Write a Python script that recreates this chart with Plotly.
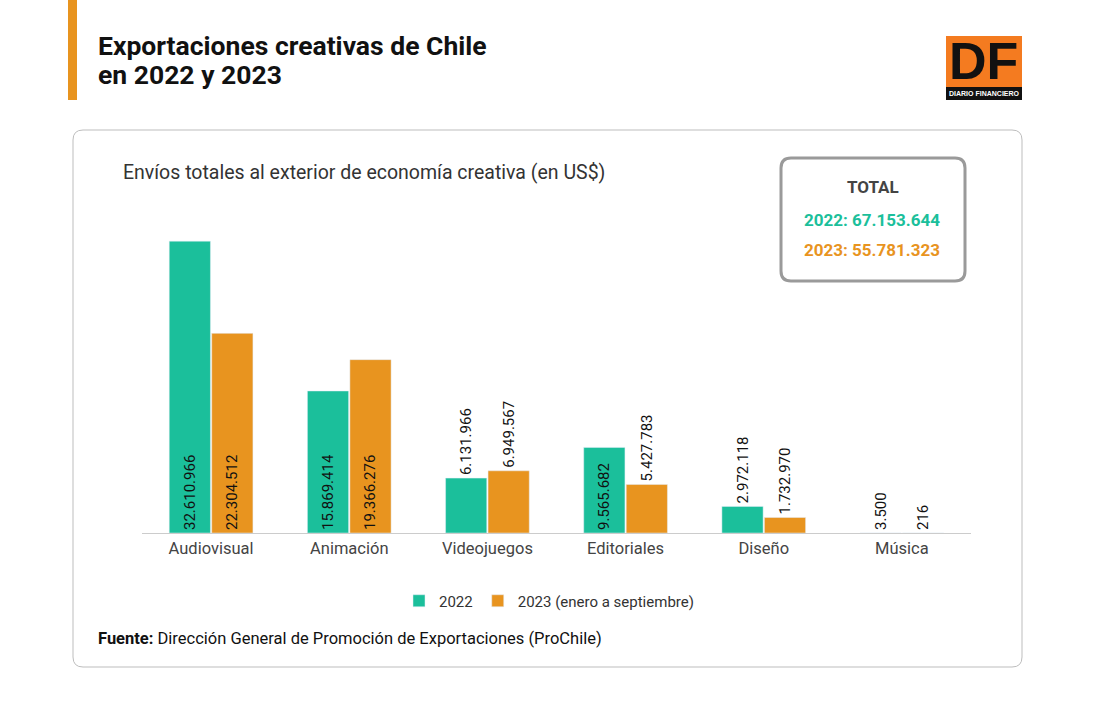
import plotly.graph_objects as go

categories = ["Audiovisual", "Animación", "Videojuegos", "Editoriales", "Diseño", "Música"]
values_2022 = [32610966, 15869414, 6131966, 9565682, 2972118, 3500]
values_2023 = [22304512, 19366276, 6949567, 5427783, 1732970, 216]
labels_2022 = ["32.610.966", "15.869.414", "6.131.966", "9.565.682", "2.972.118", "3.500"]
labels_2023 = ["22.304.512", "19.366.276", "6.949.567", "5.427.783", "1.732.970", "216"]
pos_2022 = ["inside", "inside", "outside", "inside", "outside", "outside"]
pos_2023 = ["inside", "inside", "outside", "outside", "outside", "outside"]
series_names = ["2022", "2023 (enero a septiembre)"]
total_2022 = "67.153.644"
total_2023 = "55.781.323"

GREEN = "#1BBF9B"
ORANGE = "#E8941F"
W, H = 1095, 720
FONT = "Roboto"


def px(x):
    return x / W


def py(y):
    return 1 - y / H


def rrect(x0, y0, x1, y1, r):
    rx, ry = r / W, r / H
    X0, X1 = px(x0), px(x1)
    Y0, Y1 = py(y0), py(y1)
    return (f"M {X0+rx},{Y0} L {X1-rx},{Y0} Q {X1},{Y0} {X1},{Y0-ry} "
            f"L {X1},{Y1+ry} Q {X1},{Y1} {X1-rx},{Y1} L {X0+rx},{Y1} "
            f"Q {X0},{Y1} {X0},{Y1+ry} L {X0},{Y0-ry} Q {X0},{Y0} {X0+rx},{Y0} Z")


tf = dict(family=FONT, size=15, color="#111")
fig = go.Figure()
fig.add_trace(go.Bar(
    x=categories, y=values_2022, name=series_names[0], marker_color=GREEN,
    text=labels_2022, textposition=pos_2022, textangle=-90,
    insidetextanchor="start", cliponaxis=False, constraintext="none",
    textfont=tf, insidetextfont=tf, outsidetextfont=tf,
))
fig.add_trace(go.Bar(
    x=categories, y=values_2023, name=series_names[1], marker_color=ORANGE,
    text=labels_2023, textposition=pos_2023, textangle=-90,
    insidetextanchor="start", cliponaxis=False, constraintext="none",
    textfont=tf, insidetextfont=tf, outsidetextfont=tf,
))

shapes = [
    dict(type="path", xref="paper", yref="paper", path=rrect(73, 130, 1022, 667, 10),
         line=dict(color="#BDBDBD", width=1), fillcolor="rgba(0,0,0,0)", layer="below"),
    dict(type="rect", xref="paper", yref="paper", x0=px(68), x1=px(77), y0=py(0), y1=py(100),
         line=dict(width=0), fillcolor=ORANGE),
    dict(type="path", xref="paper", yref="paper", path=rrect(781, 158, 965, 281, 10),
         line=dict(color="#9A9A9A", width=3), fillcolor="white"),
    dict(type="rect", xref="paper", yref="paper", x0=px(946), x1=px(1022), y0=py(36), y1=py(100),
         line=dict(width=0), fillcolor="#F47B20"),
    dict(type="rect", xref="paper", yref="paper", x0=px(946), x1=px(1022), y0=py(87), y1=py(100),
         line=dict(width=0), fillcolor="#111111"),
]

P = dict(xref="paper", yref="paper", showarrow=False)
annotations = [
    dict(text="<b>Exportaciones creativas de Chile</b>", x=px(96), y=py(45),
         xanchor="left", yanchor="middle", align="left",
         font=dict(family=FONT, size=26.5, color="#111"), **P),
    dict(text="<b>en 2022 y 2023</b>", x=px(96), y=py(75),
         xanchor="left", yanchor="middle", align="left",
         font=dict(family=FONT, size=26.5, color="#111"), **P),
    dict(text="Envíos totales al exterior de economía creativa (en US$)", x=px(121), y=py(172),
         xanchor="left", yanchor="middle",
         font=dict(family=FONT, size=19.5, color="#333"), **P),
    dict(text="<b>TOTAL</b>", x=px(873), y=py(187), xanchor="center", yanchor="middle",
         font=dict(family=FONT, size=17, color="#444"), **P),
    dict(text=f"<b>2022: {total_2022}</b>", x=px(872), y=py(220), xanchor="center", yanchor="middle",
         font=dict(family=FONT, size=17, color=GREEN), **P),
    dict(text=f"<b>2023: {total_2023}</b>", x=px(872), y=py(250), xanchor="center", yanchor="middle",
         font=dict(family=FONT, size=17, color=ORANGE), **P),
    dict(text="<b>Fuente:</b> Dirección General de Promoción de Exportaciones (ProChile)",
         x=px(96), y=py(638), xanchor="left", yanchor="middle",
         font=dict(family=FONT, size=16.5, color="#111"), **P),
    dict(text="<b>DF</b>", x=px(983), y=py(61), xanchor="center", yanchor="middle",
         font=dict(family="Liberation Sans", size=52, color="#111"), **P),
    dict(text="<b>DIARIO FINANCIERO</b>", x=px(984), y=py(94), xanchor="center", yanchor="middle",
         font=dict(family="Liberation Sans", size=7, color="white"), **P),
]

fig.update_layout(
    width=W, height=H, autosize=False,
    margin=dict(l=0, r=0, t=0, b=0),
    paper_bgcolor="white", plot_bgcolor="white",
    barmode="group", bargap=0.385, bargroupgap=0.03,
    font=dict(family=FONT),
    xaxis=dict(domain=[px(142), px(971)], showline=True, linecolor="#CCCCCC", linewidth=1,
               ticks="", tickfont=dict(family=FONT, size=16.5, color="#444"), fixedrange=True),
    yaxis=dict(domain=[py(533), py(200)], range=[0, (533 - 200) / 8.95 * 1e6],
               showgrid=False, zeroline=False, showticklabels=False, fixedrange=True),
    legend=dict(orientation="h", x=px(549), xanchor="center", y=py(601), yanchor="middle",
                font=dict(family=FONT, size=15, color="#333"), itemwidth=30, traceorder="normal"),
    shapes=shapes, annotations=annotations,
)

fig.write_html("out.html", config={"displayModeBar": False})
